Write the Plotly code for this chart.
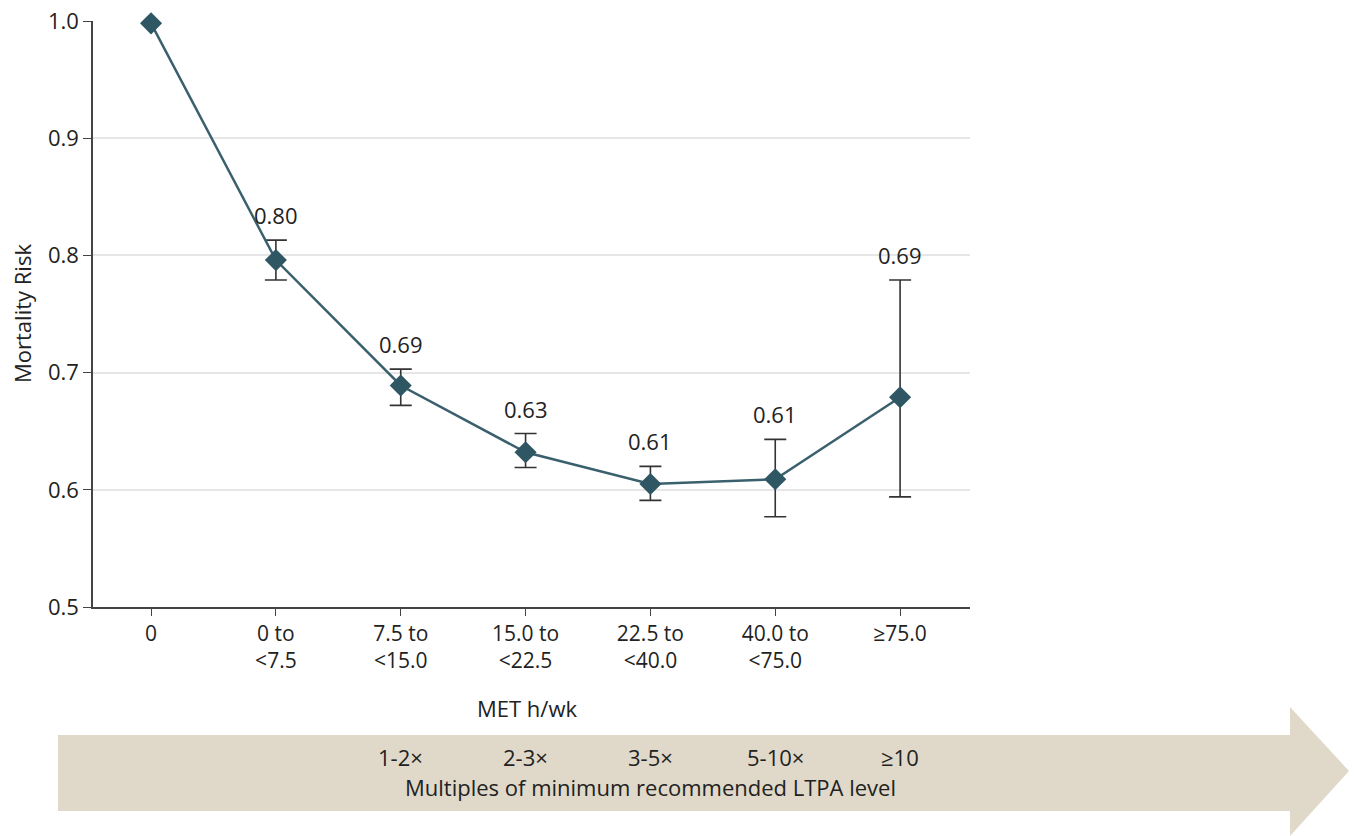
import plotly.graph_objects as go

categories = ["0", "0 to<br><7.5", "7.5 to<br><15.0", "15.0 to<br><22.5",
              "22.5 to<br><40.0", "40.0 to<br><75.0", "≥75.0"]
risk = [0.998, 0.796, 0.689, 0.632, 0.605, 0.609, 0.679]
ci_upper = [None, 0.813, 0.703, 0.648, 0.620, 0.643, 0.779]
ci_lower = [None, 0.779, 0.672, 0.619, 0.591, 0.577, 0.594]
value_labels = [None, "0.80", "0.69", "0.63", "0.61", "0.61", "0.69"]
multiples = [None, None, "1-2×", "2-3×", "3-5×", "5-10×", "≥10"]
y_ticks = [0.5, 0.6, 0.7, 0.8, 0.9, 1.0]
y_ticktext = ["0.5", "0.6", "0.7", "0.8", "0.9", "1.0"]

FONT = "Open Sans"
TXT = "#222222"
FS = 22
xs = list(range(len(categories)))

err_plus = [0 if u is None else u - r for u, r in zip(ci_upper, risk)]
err_minus = [0 if l is None else r - l for l, r in zip(ci_lower, risk)]

fig = go.Figure()
fig.add_trace(go.Scatter(
    x=xs[1:], y=risk[1:], mode="markers",
    marker=dict(size=1, color="rgba(0,0,0,0)"),
    error_y=dict(type="data", symmetric=False, array=err_plus[1:],
                 arrayminus=err_minus[1:], color="#333333", thickness=1.6, width=11),
    hoverinfo="skip", showlegend=False, cliponaxis=False))
fig.add_trace(go.Scatter(
    x=xs, y=risk, mode="lines+markers",
    line=dict(color="#3b606d", width=2.5),
    marker=dict(symbol="diamond", size=17, color="#2f5663"),
    showlegend=False, cliponaxis=False))

L, R, T, B = 93, 384, 21, 229
W, H = 1354, 836
pw, ph = W - L - R, H - T - B

def px(x):
    return (x - L) / pw

def py(y):
    return (H - B - y) / ph

annotations = []
for x, u, lab in zip(xs, ci_upper, value_labels):
    if lab is None:
        continue
    annotations.append(dict(x=x, y=u, xref="x", yref="y", text=lab, showarrow=False,
                            yshift=25, yanchor="middle",
                            font=dict(family=FONT, size=FS, color=TXT)))

arrow_path = (f"M {px(58)} {py(735)} L {px(1290)} {py(735)} L {px(1290)} {py(707)} "
              f"L {px(1349)} {py(771)} L {px(1290)} {py(836)} L {px(1290)} {py(811)} "
              f"L {px(58)} {py(811)} Z")
shapes = [dict(type="path", path=arrow_path, xref="paper", yref="paper",
               fillcolor="#e0d9c9", line=dict(width=0), layer="below")]

for x, m in zip(xs, multiples):
    if m is None:
        continue
    annotations.append(dict(x=x, y=py(757), xref="x", yref="paper", text=m,
                            showarrow=False, yanchor="middle",
                            font=dict(family=FONT, size=FS, color=TXT)))
annotations.append(dict(x=4, y=py(787), xref="x", yref="paper",
                        text="Multiples of minimum recommended LTPA level",
                        showarrow=False, yanchor="middle",
                        font=dict(family=FONT, size=FS, color=TXT)))
annotations.append(dict(x=px(527), y=py(708), xref="paper", yref="paper",
                        text="MET h/wk", showarrow=False, yanchor="middle",
                        font=dict(family=FONT, size=FS, color=TXT)))
annotations.append(dict(x=px(22), y=py(314), xref="paper", yref="paper",
                        text="Mortality Risk", showarrow=False, textangle=-90,
                        xanchor="center", yanchor="middle",
                        font=dict(family=FONT, size=FS, color=TXT)))

fig.update_layout(
    width=W, height=H,
    margin=dict(l=L, r=R, t=T, b=B, autoexpand=False),
    plot_bgcolor="white", paper_bgcolor="white",
    font=dict(family=FONT, size=FS, color=TXT),
    shapes=shapes, annotations=annotations,
    xaxis=dict(range=[-0.465, 6.56], tickvals=xs, ticktext=categories,
               showgrid=False, zeroline=False, showline=True, linecolor="#444444",
               linewidth=1.5, ticks="outside", ticklen=7, tickcolor="#444444",
               automargin=False,
               tickfont=dict(family=FONT, size=FS - 1, color=TXT)),
    yaxis=dict(range=[0.5, 1.0], tickvals=y_ticks, ticktext=y_ticktext,
               showgrid=True, gridcolor="#e6e6e6", gridwidth=1.5, zeroline=False,
               showline=True, linecolor="#444444", linewidth=1.5,
               ticks="outside", ticklen=8, tickcolor="#444444",
               automargin=False,
               tickfont=dict(family=FONT, size=FS, color=TXT)),
)

fig.write_html("out.html")
